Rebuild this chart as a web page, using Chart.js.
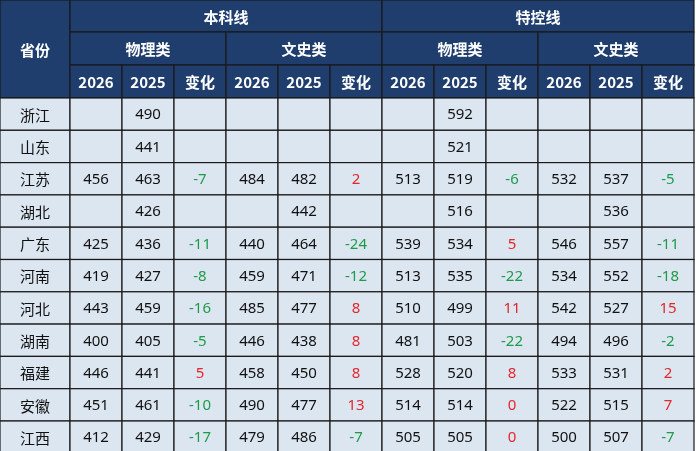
<!DOCTYPE html>
<html><head><meta charset="utf-8">
<script src="https://cdn.jsdelivr.net/npm/chart.js@4.4.0/dist/chart.umd.min.js"></script>
<style>html,body{margin:0;padding:0;background:#fff}#c{display:block}</style>
</head><body>
<div style="width:696px;height:451px"><canvas id="c" width="696" height="451"></canvas></div>
<script>
const provinces=["浙江","山东","江苏","湖北","广东","河南","河北","湖南","福建","安徽","江西"];
const benPhy2026=[null,null,456,null,425,419,443,400,446,451,412];
const benPhy2025=[490,441,463,426,436,427,459,405,441,461,429];
const benPhyChg=[null,null,-7,null,-11,-8,-16,-5,5,-10,-17];
const benHis2026=[null,null,484,null,440,459,485,446,458,490,479];
const benHis2025=[null,null,482,442,464,471,477,438,450,477,486];
const benHisChg=[null,null,2,null,-24,-12,8,8,8,13,-7];
const tkPhy2026=[null,null,513,null,539,513,510,481,528,514,505];
const tkPhy2025=[592,521,519,516,534,535,499,503,520,514,505];
const tkPhyChg=[null,null,-6,null,5,-22,11,-22,8,0,0];
const tkHis2026=[null,null,532,null,546,534,542,494,533,522,500];
const tkHis2025=[null,null,537,536,557,552,527,496,531,515,507];
const tkHisChg=[null,null,-5,null,-11,-18,15,-2,2,7,-7];
const columns=[benPhy2026,benPhy2025,benPhyChg,benHis2026,benHis2025,benHisChg,tkPhy2026,tkPhy2025,tkPhyChg,tkHis2026,tkHis2025,tkHisChg];
const changeCols=[2,5,8,11];
const yearLabels=["2026","2025","变化"];
const level1=["本科线","特控线"];
const level2=["物理类","文史类"];
const cornerLabel="省份";

const colEdges=[0,70];for(let i=0;i<12;i++)colEdges.push(70+52*(i+1));
const rowEdges=[0,32,65,98];for(let i=0;i<11;i++)rowEdges.push(98+32.3*(i+1));

const CJK='"Noto Sans CJK SC", sans-serif';
const tablePlugin={id:'table',afterDraw(chart){
  const ctx=chart.ctx,X=chart.scales.x,Y=chart.scales.y;
  const px=i=>X.getPixelForValue(colEdges[i]),py=i=>Y.getPixelForValue(rowEdges[i]);
  function cell(c0,c1,r0,r1,bg,text,color,font){
    const x0=px(c0),x1=px(c1),y0=py(r0),y1=py(r1);
    ctx.fillStyle=bg;ctx.fillRect(x0,y0,x1-x0,y1-y0);
    ctx.strokeStyle='#1a1a1a';ctx.lineWidth=1.2;ctx.strokeRect(x0,y0,x1-x0,y1-y0);
    if(text!==null&&text!==undefined&&text!==''){ctx.fillStyle=color;ctx.font=font;ctx.textAlign='center';ctx.textBaseline='middle';ctx.fillText(String(text),(x0+x1)/2,(y0+y1)/2+1);}
  }
  const HB='#1f3e6e',HF='bold 15px '+CJK,DB='#dce6f1';
  cell(0,1,0,3,HB,cornerLabel,'#fff',HF);
  level1.forEach((t,i)=>cell(1+6*i,7+6*i,0,1,HB,t,'#fff',HF));
  for(let g=0;g<4;g++){cell(1+3*g,4+3*g,1,2,HB,level2[g%2],'#fff',HF);
    for(let k=0;k<3;k++)cell(1+3*g+k,2+3*g+k,2,3,HB,yearLabels[k],'#fff',HF);}
  provinces.forEach((p,r)=>{
    cell(0,1,3+r,4+r,DB,p,'#111','15px '+CJK);
    columns.forEach((col,c)=>{const v=col[r];let color='#111';
      if(changeCols.includes(c)&&v!==null)color=v<0?'#1e9b48':'#e3262b';
      cell(1+c,2+c,3+r,4+r,DB,v,color,'15px "Noto Sans", sans-serif');});
  });
}};
new Chart(document.getElementById('c'),{
  type:'scatter',
  data:{datasets:[{data:provinces.map((p,i)=>({x:35,y:rowEdges[3+i]+16})),pointRadius:0}]},
  options:{responsive:false,animation:false,layout:{padding:0},
    plugins:{legend:{display:false},tooltip:{enabled:false}},
    scales:{x:{type:'linear',min:0,max:696,display:false},y:{type:'linear',min:0,max:451,reverse:true,display:false}}},
  plugins:[tablePlugin]
});
</script></body></html>
